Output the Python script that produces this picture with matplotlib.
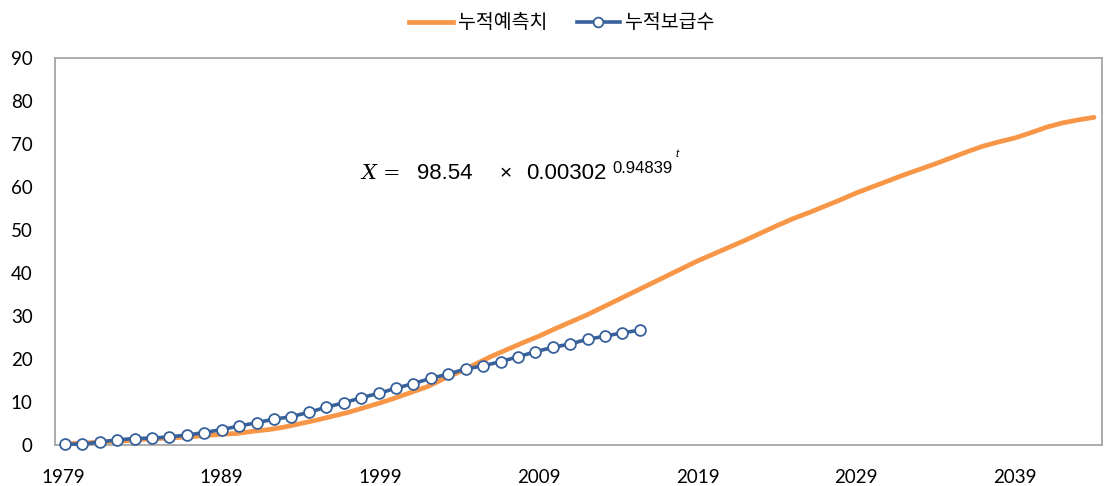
import matplotlib
matplotlib.use("Agg")
import matplotlib.pyplot as plt
from matplotlib.lines import Line2D

# ---------------- data ----------------
forecast_years = list(range(1979, 2045))
forecast_values = [0.2, 0.4, 0.6, 0.8, 1.0, 1.3, 1.5, 1.7, 1.9, 2.2,
                   2.5, 2.7, 3.2, 3.6, 4.2, 5.0, 5.8, 6.7, 7.6, 8.7,
                   9.8, 11.0, 12.3, 13.6, 15.4, 17.0, 18.8, 20.6, 22.2, 23.8,
                   25.3, 27.0, 28.6, 30.2, 32.0, 33.8, 35.6, 37.4, 39.2, 41.0,
                   42.8, 44.4, 46.0, 47.6, 49.3, 51.0, 52.6, 54.0, 55.5, 57.0,
                   58.6, 60.0, 61.4, 62.8, 64.1, 65.4, 66.8, 68.2, 69.5, 70.5,
                   71.4, 72.6, 73.9, 74.9, 75.6, 76.2]

actual_years = list(range(1980, 2014))
actual_values = [0.2, 0.2, 0.7, 1.2, 1.5, 1.6, 1.9, 2.3, 2.9, 3.6,
                 4.4, 5.2, 6.0, 6.6, 7.6, 8.8, 9.8, 11.0, 12.0, 13.2,
                 14.3, 15.5, 16.5, 17.7, 18.4, 19.4, 20.5, 21.7, 22.7, 23.5,
                 24.6, 25.3, 26.1, 26.7]

tick_years = [1979, 1989, 1999, 2009, 2019, 2029, 2039]
y_ticks = [0, 10, 20, 30, 40, 50, 60, 70, 80, 90]
series_names = ["누적예측치", "누적보급수"]

# ---------------- style ----------------
ORANGE = "#F79646"
BLUE = "#38619C"
FRAME = "#A6A6A6"
W, H = 1104, 486
NUM_FONT = ["Lato", "DejaVu Sans"]

fig = plt.figure(figsize=(W / 100, H / 100), dpi=100)
L, R, T, B = 55, 1102, 58, 445
ax = fig.add_axes([L / W, 1 - B / H, (R - L) / W, (B - T) / H])

ax.plot(forecast_years, forecast_values, color=ORANGE, lw=3.4,
        solid_capstyle="round", zorder=2)
ax.set_xlim(1978.5, 2044.5)
ax.set_ylim(0, 90)
ax.set_xticks(tick_years)
ax.set_xticklabels([str(y) for y in tick_years], fontfamily=NUM_FONT, fontsize=13.5)
ax.set_yticks(y_ticks)
ax.set_yticklabels([str(v) for v in y_ticks], fontfamily=NUM_FONT, fontsize=13.5)
ax.tick_params(axis="both", length=0)
ax.tick_params(axis="y", pad=16)
ax.tick_params(axis="x", pad=17)
for s in ax.spines.values():
    s.set_color(FRAME)
    s.set_linewidth(1.3)

# second horizontal scale for the observed series
ax2 = ax.twiny()
ax2.plot(actual_years, actual_values, color=BLUE, lw=2.6, marker="o",
         markersize=7.8, markerfacecolor="white", markeredgecolor=BLUE,
         markeredgewidth=1.3, zorder=3, clip_on=False)
ax2.set_xlim(1979.43, 2039.52)
ax2.set_xticks([])
for s in ax2.spines.values():
    s.set_visible(False)

# legend
handles = [Line2D([], [], color=ORANGE, lw=3.4),
           Line2D([], [], color=BLUE, lw=2.6, marker="o", markersize=7,
                  markerfacecolor="white", markeredgecolor=BLUE, markeredgewidth=1.3)]
fig.legend(handles, series_names, loc="center", bbox_to_anchor=(562 / W, 1 - 23 / H),
           ncol=2, frameon=False, handlelength=2.25, handletextpad=0.25,
           columnspacing=1.5, prop={"family": ["Noto Sans CJK KR", "DejaVu Sans"], "size": 14})

# equation
def ftxt(x, y, s, **kw):
    fig.text(x / W, 1 - y / H, s, va="baseline", ha="left", **kw)

ftxt(361, 179, "X", family="DejaVu Serif", style="italic", fontsize=15)
ftxt(383, 179, "=", family="DejaVu Serif", fontsize=15)
ftxt(417, 179, "98.54", family="Liberation Sans", fontsize=16)
ftxt(500, 179, "×", family="Liberation Sans", fontsize=15)
ftxt(526, 179, "0.00302", family="Liberation Sans", fontsize=16)
ftxt(612, 173, "0.94839", family="Liberation Sans", fontsize=12)
ftxt(675, 157, "t", family="Liberation Sans", style="italic", fontsize=8)

fig.savefig("out.png", dpi=100, facecolor="white")
